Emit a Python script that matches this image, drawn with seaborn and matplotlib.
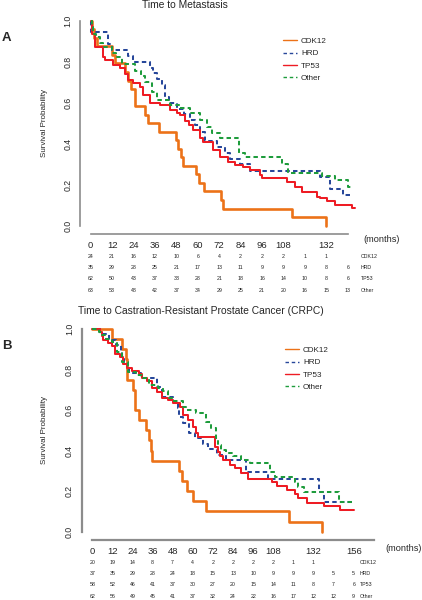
import numpy as np
import pandas as pd
import seaborn as sns
import matplotlib.pyplot as plt
from matplotlib.lines import Line2D
from matplotlib.transforms import blended_transform_factory

sns.set_style('white')
plt.rcParams['font.family'] = ['Liberation Sans', 'DejaVu Sans']

groups = ['CDK12', 'HRD', 'TP53', 'Other']
colors = {'CDK12': '#EC7218', 'HRD': '#27479A', 'TP53': '#EE1C24', 'Other': '#1E9C3C'}
dash_styles = {'CDK12': '', 'HRD': (2.2, 1.6), 'TP53': '', 'Other': (2.2, 1.6)}
widths = {'CDK12': 1.9, 'HRD': 1.45, 'TP53': 1.45, 'Other': 1.45}

# ---- Panel A: time to metastasis (Kaplan-Meier steps)
a_cdk12_t = [0, 1, 2, 3.4, 12, 13.6, 19, 20.7, 22.6, 24.8, 30.4, 32, 38, 47.6, 49, 50.5, 51.5, 59, 60.5, 63.5, 73, 74.3, 113, 132]
a_cdk12_s = [1.0, 0.958, 0.917, 0.875, 0.833, 0.792, 0.75, 0.708, 0.667, 0.583, 0.542, 0.5, 0.458, 0.417, 0.375, 0.333, 0.292, 0.25, 0.208, 0.167, 0.125, 0.083, 0.042, 0.0]
a_hrd_t = [0, 0.3, 9.9, 11.8, 21.1, 23.9, 33.2, 35, 37, 40, 41.6, 44, 48.2, 52, 55.6, 58.4, 61, 64, 70.6, 75.2, 78, 83.6, 89.2, 128.5, 134, 141.5, 147]
a_hrd_s = [1.0, 0.943, 0.886, 0.857, 0.829, 0.8, 0.771, 0.743, 0.714, 0.686, 0.629, 0.6, 0.571, 0.543, 0.514, 0.49, 0.455, 0.414, 0.384, 0.355, 0.323, 0.3, 0.266, 0.235, 0.178, 0.15, 0.15]
a_tp53_t = [0, 0.5, 2.4, 7.1, 8, 12.7, 16.4, 19.2, 21.1, 23.9, 27.6, 29.5, 33.2, 38.8, 44.4, 48.2, 50, 52.8, 55, 57.5, 61.2, 63.1, 68.7, 72.4, 77.1, 80.8, 85.5, 89.2, 94.8, 95.8, 109.8, 114.5, 118.2, 126.6, 128.5, 132.2, 136.9, 146.2, 148]
a_tp53_s = [1.0, 0.935, 0.871, 0.823, 0.806, 0.783, 0.767, 0.742, 0.71, 0.694, 0.677, 0.637, 0.596, 0.588, 0.563, 0.547, 0.539, 0.51, 0.49, 0.466, 0.425, 0.409, 0.368, 0.333, 0.311, 0.295, 0.287, 0.271, 0.246, 0.23, 0.214, 0.189, 0.165, 0.14, 0.133, 0.12, 0.1, 0.084, 0.084]
a_other_t = [0, 0.5, 1.5, 3, 5, 7, 11.8, 14, 17.3, 24.8, 28, 30.4, 34.2, 37, 44.4, 50, 55.6, 61.2, 65, 68, 72.4, 83.3, 86.4, 107, 110.7, 129.4, 136.9, 144.3, 147]
a_other_s = [1.0, 0.968, 0.937, 0.921, 0.889, 0.873, 0.841, 0.823, 0.79, 0.755, 0.73, 0.7, 0.653, 0.612, 0.588, 0.572, 0.547, 0.515, 0.48, 0.45, 0.425, 0.352, 0.336, 0.3, 0.258, 0.241, 0.222, 0.189, 0.189]

# ---- Panel B: time to CRPC
b_cdk12_t = [0, 12, 18, 20, 20.8, 24, 25.5, 28, 31.8, 34, 35, 35.8, 52, 53.5, 56.3, 60.3, 67.8, 117.5, 137]
b_cdk12_s = [1.0, 0.95, 0.90, 0.85, 0.75, 0.70, 0.60, 0.55, 0.50, 0.45, 0.40, 0.35, 0.30, 0.25, 0.20, 0.15, 0.10, 0.05, 0.0]
b_hrd_t = [0, 4.5, 10, 14, 17, 18, 19, 20.5, 22, 29, 38.4, 41.4, 48.3, 51, 52, 54, 58, 61, 66, 69, 74.6, 80, 92, 105, 135, 138, 156]
b_hrd_s = [1.0, 0.973, 0.946, 0.919, 0.892, 0.865, 0.838, 0.811, 0.784, 0.757, 0.716, 0.666, 0.64, 0.609, 0.567, 0.535, 0.485, 0.46, 0.433, 0.406, 0.38, 0.354, 0.296, 0.26, 0.197, 0.148, 0.148]
b_tp53_t = [0, 4.6, 5.5, 6.5, 9.5, 11.5, 13.5, 16.5, 18.5, 20.5, 23.5, 28, 29.5, 32.5, 35.4, 38.4, 41.4, 45.4, 48.3, 52.3, 54, 57, 60, 62, 63, 73, 75, 76, 78, 82, 85, 89, 93, 107, 110, 116, 121, 123, 128, 138, 148, 156]
b_tp53_s = [1.0, 0.983, 0.966, 0.948, 0.931, 0.914, 0.879, 0.862, 0.828, 0.81, 0.793, 0.776, 0.759, 0.741, 0.707, 0.69, 0.659, 0.65, 0.636, 0.614, 0.576, 0.551, 0.518, 0.485, 0.469, 0.419, 0.395, 0.373, 0.354, 0.329, 0.313, 0.291, 0.26, 0.247, 0.225, 0.206, 0.185, 0.165, 0.14, 0.127, 0.107, 0.107]
b_other_t = [0, 4, 6, 8, 11.5, 14.5, 17.5, 21.5, 26.2, 30, 34, 39, 42, 45.4, 48.3, 54, 56, 62, 68, 71, 74, 75, 77, 80, 84, 89, 94, 106, 109, 121, 123, 126.3, 147, 156]
b_other_s = [1.0, 0.984, 0.968, 0.952, 0.935, 0.887, 0.839, 0.79, 0.774, 0.758, 0.726, 0.71, 0.694, 0.661, 0.645, 0.613, 0.60, 0.584, 0.543, 0.51, 0.46, 0.428, 0.403, 0.39, 0.373, 0.354, 0.34, 0.296, 0.271, 0.245, 0.222, 0.195, 0.148, 0.148]

# numbers at risk
a_risk = {
    'CDK12': [24, 21, 16, 12, 10, 6, 4, 2, 2, 2, 1, 1],
    'HRD': [35, 29, 28, 25, 21, 17, 13, 11, 9, 9, 9, 8, 6],
    'TP53': [62, 50, 43, 37, 33, 28, 21, 18, 16, 14, 10, 8, 6],
    'Other': [63, 53, 48, 42, 37, 34, 29, 25, 21, 20, 16, 15, 13],
}
b_risk = {
    'CDK12': [20, 19, 14, 8, 7, 4, 2, 2, 2, 2, 1, 1],
    'HRD': [37, 35, 29, 28, 24, 18, 15, 13, 10, 9, 9, 9, 5, 5],
    'TP53': [58, 52, 46, 41, 37, 30, 27, 20, 15, 14, 11, 8, 7, 6],
    'Other': [62, 56, 49, 45, 41, 37, 32, 24, 22, 16, 17, 12, 12, 9],
}

a_curves = {'CDK12': (a_cdk12_t, a_cdk12_s), 'HRD': (a_hrd_t, a_hrd_s),
            'TP53': (a_tp53_t, a_tp53_s), 'Other': (a_other_t, a_other_s)}
b_curves = {'CDK12': (b_cdk12_t, b_cdk12_s), 'HRD': (b_hrd_t, b_hrd_s),
            'TP53': (b_tp53_t, b_tp53_s), 'Other': (b_other_t, b_other_s)}

W, H = 422, 600
fig = plt.figure(figsize=(W / 100, H / 100), dpi=100)


def to_df(curves):
    rows = []
    for g in groups:
        t, s = curves[g]
        rows.append(pd.DataFrame({'months': t, 'surv': s, 'group': g}))
    return pd.concat(rows, ignore_index=True)


def panel(box, xlim, ylim, xmax_axis, curves, risk, title, title_xy, letter, letter_y,
          legend_xy, risk_rows, months_xy, risk_label_x, spine_w, green_tick=False):
    l, t, r, b = box
    ax = fig.add_axes([l / W, 1 - b / H, (r - l) / W, (b - t) / H])
    df = to_df(curves)
    sns.lineplot(data=df, x='months', y='surv', hue='group', style='group', size='group',
                 hue_order=groups, style_order=groups, size_order=groups,
                 palette=colors, dashes=dash_styles, sizes=widths,
                 drawstyle='steps-post', estimator=None, sort=False, legend=False, ax=ax)
    ax.set_xlim(*xlim)
    ax.set_ylim(*ylim)
    for s in ['top', 'right']:
        ax.spines[s].set_visible(False)
    for s in ['left', 'bottom']:
        ax.spines[s].set_color('#8c8c8c')
        ax.spines[s].set_linewidth(spine_w)
    ax.spines['left'].set_bounds(0, 1)
    ax.spines['bottom'].set_bounds(0, xmax_axis)

    ax.set_yticks([0, 0.2, 0.4, 0.6, 0.8, 1.0])
    ax.set_yticklabels(['0.0', '0.2', '0.4', '0.6', '0.8', '1.0'], rotation=90, va='center')
    xt = list(range(0, xmax_axis + 1, 12))
    ax.set_xticks(xt)
    ax.set_xticklabels([str(v) if (v <= 108 or v in (132, 156)) else '' for v in xt])
    ax.tick_params(axis='y', direction='out', length=3, width=0.8, color='#555555',
                   labelsize=6.3, pad=2.5)
    ax.tick_params(axis='x', direction='inout', length=3, width=0.8, color='#555555',
                   labelsize=6.8, pad=3.5)
    if green_tick:
        ax.xaxis.get_major_ticks()[1].tick1line.set_color(colors['Other'])
    ax.set_xlabel('')
    ax.set_ylabel('Survival Probability', fontsize=5.8)
    ax.yaxis.set_label_coords((48 - l) / (r - l), 0.5)

    fig.text(title_xy[0] / W, 1 - title_xy[1] / H, title, ha='center', va='center', fontsize=7.4)
    fig.text(6.5 / W, 1 - letter_y / H, letter, ha='center', va='center',
             fontsize=9.5, fontweight='bold')
    fig.text(months_xy[0] / W, 1 - months_xy[1] / H, '(months)', ha='left', va='center', fontsize=6.6)

    handles = [Line2D([], [], color=colors[g], lw=1.0,
                      linestyle=(0, (2.5, 2.0)) if dash_styles[g] else '-') for g in groups]
    ax.legend(handles=handles, labels=groups, loc='upper left',
              bbox_to_anchor=(legend_xy[0] / W, 1 - legend_xy[1] / H),
              bbox_transform=fig.transFigure, frameon=False, fontsize=5.9,
              handlelength=1.7, handletextpad=0.5, labelspacing=0.55,
              borderpad=0, borderaxespad=0)

    tr = blended_transform_factory(ax.transData, fig.transFigure)
    for g, yrow in zip(groups, risk_rows):
        for i, n in enumerate(risk[g]):
            ax.text(i * 12, 1 - yrow / H, str(n), transform=tr, ha='center', va='center',
                    fontsize=3.8, color='#222222', clip_on=False)
        fig.text(risk_label_x / W, 1 - yrow / H, g, ha='left', va='center', fontsize=3.8,
                 color='#222222')
    return ax


# panel A: 0 months at x=90.7 px, 1.785 px/month; S=1 at y=20.7 px, S=0 at y=225.5 px
panel((80, 12, 380, 234), (-6.0, 162.1), (-0.0415, 1.0425), 144, a_curves, a_risk,
      'Time to Metastasis', (185, 5.5), 'A', 38, (283, 37.5),
      [256, 267.3, 278.7, 290], (363, 239.3), 361, 1.2, green_tick=True)

# panel B: 0 months at x=92.3 px, 1.676 px/month; S=1 at y=329 px, S=0 at y=531.7 px
panel((81.7, 320, 381.7, 540), (-6.32, 172.7), (-0.041, 1.0444), 168, b_curves, b_risk,
      'Time to Castration-Resistant Prostate Cancer (CRPC)', (200.7, 310.7), 'B', 346, (285, 346.5),
      [562.7, 573.3, 585, 596.3], (385, 548.3), 360, 1.6)

plt.savefig('out.png', dpi=100)
